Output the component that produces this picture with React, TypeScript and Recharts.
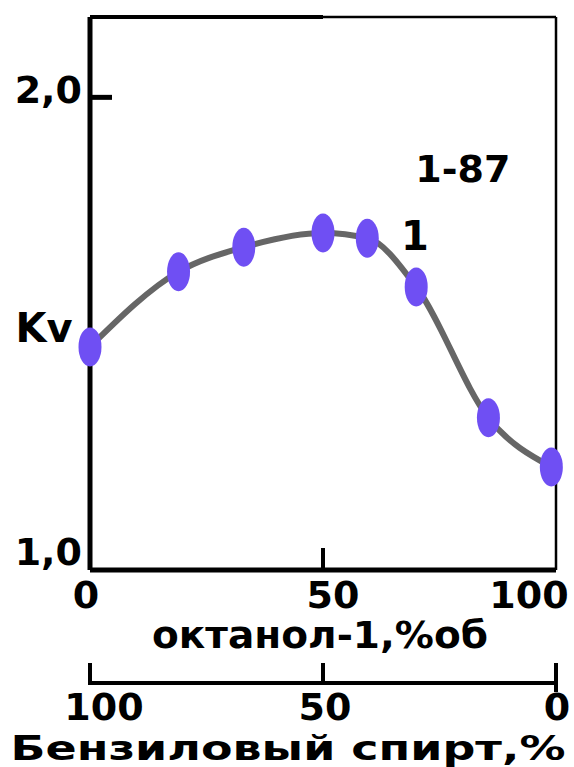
import { LineChart, Line, XAxis, YAxis, ReferenceLine, ReferenceDot } from "recharts";

const octanol = [0, 19, 33, 50, 59.5, 70, 85.5, 99];
const kv = [1.472, 1.631, 1.683, 1.713, 1.702, 1.599, 1.322, 1.218];
const octanolTicks = [0, 50, 100];
const benzylTicks = [100, 50, 0];
const kvTicks = [1, 2];

// benzyl alcohol share is the rest of the mixture
const data = octanol.map((x, i) => ({ x, benz: 100 - x, kv: kv[i] }));

const Y_MAX = 2.17;
const FONT = "'DejaVu Sans', sans-serif";

const fmt = (v: number) => v.toFixed(1).replace(".", ",");

function KvTick({ x, y, payload }: any) {
  const top = payload.value === 2;
  return (
    <g>
      {top && <line x1={x} x2={x + 22} y1={y} y2={y} stroke="#000" strokeWidth={5} />}
      <text x={x - 8} y={top ? y + 6 : y - 5} textAnchor="end" fontFamily={FONT} fontWeight="bold" fontSize={38} fill="#000">
        {fmt(payload.value)}
      </text>
    </g>
  );
}

function OctanolTick({ x, y, payload }: any) {
  const v = payload.value;
  const dx = v === 0 ? -4 : v === 50 ? 10 : -27;
  return (
    <g>
      {v === 50 && <line x1={x} x2={x} y1={y - 22} y2={y} stroke="#000" strokeWidth={4} />}
      <text x={x + dx} y={y + 38} textAnchor="middle" fontFamily={FONT} fontWeight="bold" fontSize={38} fill="#000">
        {v}
      </text>
    </g>
  );
}

function BenzylTick({ x, y, payload }: any) {
  const v = payload.value;
  const dx = v === 100 ? 14 : v === 50 ? 2 : 1;
  return (
    <g>
      <line x1={x} x2={x} y1={y - 20} y2={v === 0 ? y + 9 : y + 2} stroke="#000" strokeWidth={4} />
      <text x={x + dx} y={y + 37} textAnchor="middle" fontFamily={FONT} fontWeight="bold" fontSize={38} fill="#000">
        {v}
      </text>
    </g>
  );
}

function AxisTitle({ viewBox, text, dx, dy, len, size }: any) {
  return (
    <text
      x={viewBox.x + viewBox.width / 2 + dx}
      y={viewBox.y + dy}
      textAnchor="middle"
      fontFamily={FONT}
      fontWeight="bold"
      fontSize={size}
      textLength={len}
      lengthAdjust="spacingAndGlyphs"
      fill="#000"
    >
      {text}
    </text>
  );
}

function YTitle({ viewBox }: any) {
  return (
    <text x={viewBox.x + 44} y={viewBox.y + 325} textAnchor="middle" fontFamily={FONT} fontWeight="bold" fontSize={40} fill="#000">
      Kv
    </text>
  );
}

function Note({ viewBox, text, size }: any) {
  return (
    <text x={viewBox.x} y={viewBox.y} textAnchor="middle" fontFamily={FONT} fontWeight="bold" fontSize={size} fill="#000">
      {text}
    </text>
  );
}

function Marker({ cx, cy }: any) {
  return <ellipse cx={cx} cy={cy} rx={11.5} ry={19.5} fill="#6f4ff3" />;
}

export default function App() {
  return (
    <div style={{ position: "absolute", left: 0, top: 0, background: "#fff" }}>
      <LineChart width={574} height={767} data={data} margin={{ top: 17, right: 18, left: 0, bottom: 0 }}>
        <XAxis
          xAxisId="a"
          dataKey="x"
          type="number"
          domain={[0, 100]}
          ticks={octanolTicks}
          interval={0}
          height={113}
          tickSize={0}
          tickMargin={0}
          tickLine={false}
          axisLine={{ stroke: "#000", strokeWidth: 5 }}
          tick={<OctanolTick />}
          label={<AxisTitle text="октанол-1,%об" dx={-3} dy={78} len={336} size={37} />}
        />
        <XAxis
          xAxisId="b"
          dataKey="benz"
          type="number"
          reversed
          domain={[0, 100]}
          ticks={benzylTicks}
          interval={0}
          height={84}
          tickSize={0}
          tickMargin={0}
          tickLine={false}
          axisLine={{ stroke: "#000", strokeWidth: 4 }}
          tick={<BenzylTick />}
          label={<AxisTitle text="Бензиловый спирт,%" dx={-35} dy={77} len={555} size={33} />}
        />
        <YAxis
          type="number"
          domain={[1, Y_MAX]}
          ticks={kvTicks}
          interval={0}
          width={90}
          tickSize={0}
          tickMargin={0}
          tickLine={false}
          axisLine={{ stroke: "#000", strokeWidth: 5 }}
          tick={<KvTick />}
          label={<YTitle />}
        />
        <ReferenceLine xAxisId="a" y={Y_MAX} stroke="#000" strokeWidth={2.5} />
        <ReferenceLine
          xAxisId="a"
          segment={[
            { x: 0, y: Y_MAX },
            { x: 50, y: Y_MAX },
          ]}
          stroke="#000"
          strokeWidth={4}
        />
        <ReferenceLine xAxisId="a" x={100} stroke="#000" strokeWidth={2.5} />
        <ReferenceDot xAxisId="a" x={80} y={1.821} r={0} fill="none" stroke="none" label={<Note text="1-87" size={38} />} />
        <ReferenceDot xAxisId="a" x={69.7} y={1.677} r={0} fill="none" stroke="none" label={<Note text="1" size={40} />} />
        <Line
          xAxisId="b"
          type="monotone"
          dataKey="kv"
          stroke="none"
          dot={false}
          activeDot={false}
          legendType="none"
          isAnimationActive={false}
        />
        <Line
          xAxisId="a"
          type="monotone"
          dataKey="kv"
          stroke="#666666"
          strokeWidth={6}
          dot={<Marker />}
          activeDot={false}
          isAnimationActive={false}
        />
      </LineChart>
    </div>
  );
}
